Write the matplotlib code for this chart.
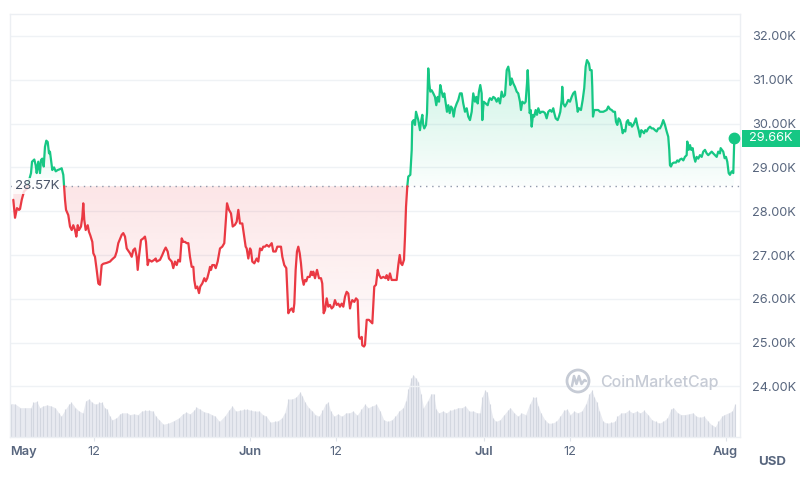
import numpy as np
import matplotlib
matplotlib.use("Agg")
import matplotlib.pyplot as plt
import matplotlib.colors as mcolors
import matplotlib.transforms as mtransforms
from matplotlib.path import Path
from matplotlib.patches import Rectangle, Circle
from matplotlib.lines import Line2D

plt.rcParams['font.family'] = ['Inter', 'DejaVu Sans']

# ---------------- data (day offset from May 1, price in K USD) ----------------
may_pts = [(0.68,28.26),(0.90,27.85),(1.15,28.07),(1.41,28.03),(1.54,28.05),(1.76,28.26),(2.05,28.45),(2.44,28.52),(2.69,28.70),(2.95,28.87),(3.08,29.13),(3.37,29.18),(3.55,29.05),(3.68,28.87),(3.88,29.13),(4.10,28.87),(4.23,29.17),(4.40,29.20),(4.58,29.02),(4.74,29.47),(4.91,29.61),(5.09,29.58),(5.26,29.32),(5.38,29.36),(5.51,29.17),(5.68,28.94),(5.90,29.00),(6.12,28.91),(6.37,28.94),(6.67,28.96),(6.88,28.98),(7.09,28.83),(7.18,28.60),(7.31,28.26),(7.44,28.03),(7.73,27.91),(7.95,27.65),(8.17,27.57),(8.37,27.68),(8.59,27.57),(8.76,27.42),(8.94,27.68),(9.10,27.57),(9.36,27.65),(9.53,27.87),(9.65,28.18),(9.78,27.80),(9.96,27.57),(10.22,27.68),(10.38,27.53),(10.55,27.45),(10.81,27.30),(10.94,27.04),(11.15,26.96),(11.37,26.66),(11.58,26.35),(11.79,26.32),(12.01,26.77),(12.22,26.80),(12.65,26.82),(13.08,26.85),(13.29,26.89),(13.72,26.96),(13.94,27.08),(14.14,27.27),(14.58,27.46),(14.78,27.50),(15.00,27.42),(15.22,27.15),(15.64,27.04),(15.86,26.96),(16.06,27.11),(16.28,27.15),(16.50,26.96),(16.63,26.66),(16.79,26.96),(17.05,27.34),(17.35,27.38),(17.56,27.42),(17.69,27.30),(17.91,26.77),(18.08,26.89),(18.42,26.85),(18.76,26.89),(18.94,26.92),(19.06,26.85),(19.49,26.89),(19.78,27.00),(20.04,27.11),(20.22,27.17),(20.47,27.08),(20.64,26.92),(20.99,26.85),(21.19,26.70),(21.41,26.85),(21.63,26.77),(21.83,26.89),(22.05,26.85),(22.18,27.15),(22.27,27.38),(22.47,27.30),(22.69,27.30),(22.91,27.27),(23.12,27.27),(23.33,26.96),(23.55,26.73),(23.76,26.73),(23.88,26.43),(24.06,26.24),(24.27,26.28),(24.49,26.13),(24.65,26.28),(24.91,26.35),(25.17,26.47),(25.35,26.40),(25.55,26.47),(25.77,26.62),(25.90,26.73),(26.03,26.66),(26.19,26.77),(26.45,26.77),(26.63,26.70),(26.88,26.85),(27.18,27.15),(27.47,27.19),(27.73,27.27),(27.91,27.72),(28.08,28.18),(28.33,28.03),(28.59,27.95),(28.81,27.65),(29.10,27.69),(29.32,27.76),(29.53,28.03),(29.74,27.72),(30.04,27.72),(30.29,27.42),(30.47,27.19),(30.60,27.15),(30.81,26.92)]

jun_pts = [(31.03,27.15),(31.15,27.11),(31.32,26.85),(31.58,26.81),(31.88,26.92),(32.09,26.85),(32.31,27.15),(32.53,27.11),(32.73,27.19),(32.95,27.19),(33.17,27.23),(33.46,27.19),(33.81,27.27),(34.01,27.08),(34.32,27.08),(34.53,27.19),(34.74,27.19),(35.00,27.19),(35.17,26.96),(35.42,26.77),(35.68,26.70),(35.81,26.20),(35.94,25.67),(36.15,25.74),(36.37,25.78),(36.58,25.70),(36.71,25.89),(36.88,26.66),(37.05,27.08),(37.22,27.19),(37.40,27.04),(37.56,26.81),(37.73,26.47),(37.91,26.32),(38.08,26.43),(38.24,26.40),(38.42,26.50),(38.68,26.50),(38.85,26.62),(39.01,26.54),(39.14,26.62),(39.36,26.47),(39.62,26.66),(39.87,26.47),(40.13,26.47),(40.29,26.35),(40.47,25.67),(40.64,25.74),(40.86,26.01),(41.06,25.82),(41.28,25.86),(41.50,25.78),(41.71,25.82),(41.92,25.97),(42.14,25.86),(42.35,25.89),(42.56,25.82),(42.78,25.89),(42.99,25.82),(43.21,26.05),(43.42,26.16),(43.63,26.12),(43.85,25.78),(43.97,25.89),(44.14,25.97),(44.40,25.93),(44.62,26.01),(44.83,25.97),(45.00,25.13),(45.13,25.09),(45.35,25.13),(45.42,24.94),(45.64,24.91),(45.77,24.95),(45.99,25.52),(46.28,25.52),(46.71,25.44),(46.96,26.28),(47.18,26.32),(47.40,26.66),(47.60,26.54),(47.82,26.47),(48.12,26.50),(48.42,26.47),(48.55,26.54),(48.76,26.43),(48.97,26.58),(49.19,26.43),(49.53,26.43),(49.83,26.43),(50.04,26.77),(50.22,27.00),(50.38,26.81),(50.55,26.77),(50.77,26.89),(50.90,27.42),(51.03,28.10),(51.19,28.56),(51.32,28.79),(51.58,28.83),(51.76,29.40),(51.83,30.04),(52.01,30.08),(52.18,29.97),(52.31,30.27),(52.47,30.16),(52.60,30.08),(52.82,29.85),(52.95,30.04),(53.12,30.20),(53.24,29.97),(53.37,29.89),(53.59,29.97),(53.72,30.24),(53.88,31.26),(54.01,30.92),(54.14,30.73),(54.32,30.76),(54.53,30.69),(54.74,30.61),(54.91,30.42),(55.09,30.61),(55.26,30.50),(55.42,30.88),(55.60,30.73),(55.77,30.61),(55.94,30.69),(56.12,30.46),(56.28,30.27),(56.45,30.42),(56.63,30.24),(56.79,30.39),(56.96,30.35),(57.14,30.16),(57.31,30.35),(57.53,30.46),(57.73,30.54),(57.95,30.69),(58.17,30.69),(58.37,30.46),(58.59,30.27),(58.81,30.35),(59.01,30.16),(59.23,30.08),(59.45,30.27),(59.65,30.69),(59.87,30.50),(60.04,30.61),(60.22,30.46),(60.38,30.73),(60.55,30.88),(60.73,30.69),(60.81,30.08),(60.99,30.50)]

jul_pts = [(61.24,30.46),(61.50,30.42),(61.67,30.54),(61.79,30.58),(62.01,30.54),(62.22,30.61),(62.44,30.58),(62.65,30.50),(62.86,30.58),(63.08,30.46),(63.29,30.73),(63.50,30.61),(63.72,30.65),(63.94,31.22),(64.14,31.30),(64.27,31.18),(64.40,30.88),(64.58,31.03),(64.78,30.92),(65.00,30.84),(65.22,30.73),(65.42,30.69),(65.64,30.50),(65.77,30.31),(65.94,30.50),(66.19,30.46),(66.37,30.50),(66.54,30.92),(66.63,31.22),(66.76,30.77),(66.88,30.24),(67.01,30.31),(67.14,29.93),(67.31,30.20),(67.47,30.16),(67.65,30.31),(67.82,30.20),(67.99,30.35),(68.21,30.24),(68.42,30.27),(68.63,30.27),(68.85,30.24),(69.06,30.12),(69.27,30.27),(69.49,30.31),(69.71,30.27),(69.91,30.35),(70.04,30.24),(70.22,30.12),(70.47,30.08),(70.64,30.16),(70.81,30.27),(70.99,30.54),(71.06,30.84),(71.19,30.46),(71.41,30.39),(71.63,30.46),(71.83,30.54),(72.05,30.50),(72.27,30.61),(72.47,30.69),(72.69,30.73),(72.91,30.46),(73.04,30.27),(73.21,30.35),(73.46,30.31),(73.68,30.54),(73.88,30.81),(74.06,31.30),(74.23,31.45),(74.49,31.37),(74.62,31.22),(74.83,31.22),(74.91,30.84),(75.00,30.16),(75.17,30.31),(75.47,30.31),(75.68,30.31),(75.90,30.27),(76.32,30.27),(76.76,30.31),(76.96,30.39),(77.18,30.33),(77.40,30.31),(77.60,30.27),(77.82,30.27),(77.95,30.04),(78.12,29.97),(78.29,30.12),(78.46,30.08),(78.63,29.97),(78.81,29.78),(78.97,29.85),(79.14,29.82),(79.32,30.04),(79.49,30.08),(79.65,29.97),(79.83,30.01),(80.00,29.93),(80.17,29.97),(80.35,30.04),(80.51,30.12),(80.68,29.97),(80.86,29.85),(81.03,29.70),(81.19,29.85),(81.37,29.82),(81.54,29.78),(81.71,29.85),(81.88,29.82),(82.09,29.89),(82.31,29.93),(82.53,29.89),(82.73,29.89),(82.95,29.85),(83.17,29.82),(83.37,29.89),(83.59,29.89),(83.81,29.97),(84.01,30.08),(84.23,29.97),(84.45,29.82),(84.65,29.70),(84.78,29.40),(84.87,29.05),(85.00,29.02),(85.17,29.09),(85.38,29.11),(85.64,29.11),(85.81,29.16),(85.99,29.13),(86.15,29.18),(86.37,29.20),(86.58,29.16),(86.79,29.24),(87.01,29.28),(87.09,29.59),(87.27,29.40),(87.44,29.51),(87.60,29.40),(87.78,29.44),(87.95,29.24),(88.12,29.13),(88.29,29.24),(88.50,29.20),(88.72,29.28),(88.94,29.24),(89.14,29.36),(89.36,29.40),(89.58,29.32),(89.78,29.28),(90.00,29.32),(90.22,29.36),(90.42,29.32),(90.64,29.28),(90.86,29.24),(91.06,29.36),(91.28,29.32),(91.37,29.44),(91.54,29.40),(91.70,29.36),(91.88,29.21),(92.05,29.24),(92.22,29.13),(92.40,28.87),(92.56,28.83),(92.78,28.91),(92.99,28.87),(93.12,29.66)]

# volume (billion USD, day offset from May 1)
volume_pts = [(0.41,19.4),(0.94,19.0),(1.59,17.0),(2.24,17.0),(2.90,17.0),(3.23,20.0),(3.68,20.6),(4.08,17.0),(4.54,18.0),(4.99,18.6),(5.51,18.0),(6.04,17.0),(6.50,14.0),(6.82,12.0),(7.35,16.0),(7.81,19.0),(8.13,20.0),(8.65,17.0),(9.11,15.0),(9.57,14.0),(9.96,21.0),(10.42,22.0),(10.75,20.0),(11.27,19.0),(11.73,20.0),(12.05,20.0),(12.38,17.0),(12.71,16.0),(13.04,12.0),(13.36,10.0),(13.89,11.0),(14.35,13.4),(14.67,14.0),(15.20,14.0),(15.65,13.0),(16.11,13.4),(16.64,13.0),(17.15,15.0),(17.62,15.4),(18.08,15.4),(18.60,15.0),(18.92,12.0),(19.38,10.0),(19.91,7.4),(20.56,8.0),(21.22,9.4),(21.87,11.0),(22.40,13.4),(22.85,14.4),(23.31,13.4),(23.83,15.4),(24.15,17.4),(24.62,16.0),(25.14,14.6),(25.67,14.0),(26.12,13.0),(26.58,12.0),(27.10,9.0),(27.76,12.0),(28.28,15.4),(28.74,18.0),(29.20,15.0),(29.72,15.4),(30.24,16.0),(30.70,16.0),(31.16,15.4),(31.68,15.0),(32.20,15.0),(32.66,13.0),(33.12,12.0),(33.64,8.6),(34.17,9.0),(34.62,9.4),(35.08,11.0),(35.47,14.0),(35.93,22.0),(36.39,22.0),(36.91,23.0),(37.44,26.0),(37.70,24.0),(38.09,20.0),(38.55,17.0),(39.01,15.0),(39.40,13.0),(39.86,12.0),(40.31,15.4),(40.71,19.4),(41.04,20.0),(41.36,15.0),(41.82,12.0),(42.28,13.4),(42.80,12.0),(43.32,14.0),(43.78,14.0),(44.24,15.0),(44.76,12.6),(45.28,16.0),(45.74,19.0),(46.20,17.0),(46.72,18.0),(47.24,19.0),(47.71,15.0),(48.17,10.0),(48.69,9.0),(49.21,10.0),(49.67,12.0),(50.13,15.0),(50.65,17.0),(50.98,21.0),(51.31,28.0),(51.69,34.0),(51.96,36.0),(52.28,34.0),(52.62,32.0),(52.94,25.0),(53.27,17.0),(53.79,21.0),(54.24,25.0),(54.57,25.0),(54.90,16.0),(55.23,14.0),(55.75,15.0),(56.21,14.0),(56.67,15.4),(57.19,16.0),(57.72,17.0),(58.17,17.0),(58.63,18.0),(59.15,15.0),(59.67,15.0),(60.13,14.0),(60.46,14.0),(60.79,23.0),(61.12,27.0),(61.44,26.0),(61.77,19.0),(62.17,11.0),(62.55,9.0),(63.08,10.0),(63.60,13.0),(64.06,15.4),(64.38,17.0),(64.91,14.0),(65.37,12.0),(65.82,14.0),(66.35,13.0),(66.87,19.0),(67.33,23.0),(67.65,23.0),(67.98,18.0),(68.31,14.0),(68.83,10.0),(69.29,8.0),(69.74,8.0),(70.27,9.0),(70.79,12.0),(71.25,15.4),(71.71,16.0),(72.10,13.0),(72.56,15.0),(73.02,14.0),(73.54,15.0),(74.06,19.0),(74.52,25.0),(74.85,27.0),(75.18,23.0),(75.50,20.0),(75.83,15.0),(76.29,9.0),(76.81,8.0),(77.33,8.4),(77.79,9.0),(78.12,12.0),(78.64,14.0),(79.10,14.0),(79.56,15.4),(80.09,14.0),(80.60,15.0),(81.06,14.0),(81.53,15.4),(82.05,13.0),(82.56,10.0),(83.03,9.0),(83.49,8.0),(84.01,9.0),(84.53,11.0),(84.99,16.0),(85.32,17.0),(85.85,14.0),(86.30,13.0),(86.76,13.0),(87.28,13.4),(87.81,14.0),(88.26,12.0),(88.72,11.4),(89.24,12.0),(89.77,9.0),(90.22,7.0),(90.68,6.0),(91.07,9.0),(91.53,12.0),(91.86,13.0),(92.38,14.0),(92.84,15.0),(93.17,19.0)]

base_price = 28.57
y_ticks = [24, 25, 26, 27, 28, 29, 30, 31, 32]
x_tick_days = [11, 31, 42, 61, 72, 92]
x_tick_labels = ['12', 'Jun', '12', 'Jul', '12', 'Aug']
first_month_label = 'May'
month_names = ['May', 'Jun', 'Jul', 'Aug']
currency = 'USD'
watermark = 'CoinMarketCap'

GREEN = '#16c784'
RED = '#ea3943'
GRID = '#eff2f5'
TXT = '#58667e'
FS = 9.2

pts = may_pts + jun_pts + jul_pts
days = np.array([p[0] for p in pts])
prices = np.array([p[1] for p in pts])
vdays = np.array([p[0] for p in volume_pts])
vols = np.array([p[1] for p in volume_pts])

# insert crossing points at the baseline for colour split
xs, ys = [], []
for i in range(len(days)):
    if i > 0:
        y0, y1 = prices[i - 1], prices[i]
        if (y0 - base_price) * (y1 - base_price) < 0:
            t = (base_price - y0) / (y1 - y0)
            xs.append(days[i - 1] + t * (days[i] - days[i - 1]))
            ys.append(base_price)
    xs.append(days[i]); ys.append(prices[i])
xs = np.array(xs); ys = np.array(ys)

# ---------------- figure ----------------
W, H = 800, 486
fig = plt.figure(figsize=(W / 100, H / 100), dpi=100)
L, R, T, B = 10, 740, 14, 437
rect = [L / W, 1 - B / H, (R - L) / W, (B - T) / H]
XLIM = (0.256, 93.85)
YLIM = (22.845, 32.502)

ax_v = fig.add_axes(rect)
ax_v.set_xlim(*XLIM)
ax_v.set_ylim(0, 245)
ax_v.axis('off')
ax_v.fill_between(vdays, 0, vols, color='#e8eaf0', lw=0)
ax_v.vlines(vdays, 0, vols, color='#d3d7e0', lw=0.8)

ax = fig.add_axes(rect)
ax.patch.set_visible(False)
ax.set_xlim(*XLIM)
ax.set_ylim(*YLIM)
ax.set_axisbelow(True)
ax.grid(axis='y', color=GRID, lw=1)
for s in ax.spines.values():
    s.set_color('#eceff3')
    s.set_linewidth(1)

ax.yaxis.tick_right()
ax.set_yticks(y_ticks)
ax.set_yticklabels([f'{v:.2f}K' for v in y_ticks])
ax.tick_params(axis='y', length=0, pad=8.5, labelsize=FS, labelcolor=TXT)
ax.set_xticks(x_tick_days)
ax.set_xticklabels(x_tick_labels)
ax.tick_params(axis='x', length=3, color='#dfe3ea', pad=3.5, labelsize=FS, labelcolor=TXT)
for lbl in ax.get_xticklabels():
    if lbl.get_text() in month_names:
        lbl.set_fontweight('semibold')
off = mtransforms.offset_copy(ax.transAxes, fig=fig, y=-6.5, units='points')
ax.text(0.0, 0.0, first_month_label, transform=off, ha='left', va='top',
        fontsize=FS, color=TXT, fontweight='semibold')


def grad_fill(x, ytop, ybot, color, a_lo, a_hi, y_lo, y_hi):
    verts = np.concatenate([np.column_stack([x, ytop]),
                            np.column_stack([x[::-1], ybot[::-1]])])
    path = Path(verts)
    rgb = mcolors.to_rgb(color)
    n = 256
    img = np.zeros((n, 1, 4))
    img[..., :3] = rgb
    img[:, 0, 3] = np.linspace(a_lo, a_hi, n)
    im = ax.imshow(img, extent=[x.min(), x.max(), y_lo, y_hi], origin='lower',
                   aspect='auto', zorder=1, interpolation='bilinear')
    im.set_clip_path(path, transform=ax.transData)


upper = np.maximum(ys, base_price)
lower = np.minimum(ys, base_price)
base_arr = np.full_like(ys, base_price)
grad_fill(xs, upper, base_arr, GREEN, 0.02, 0.22, base_price, ys.max())
grad_fill(xs, base_arr, lower, RED, 0.02, 0.13, ys.min(), base_price)
ax.set_xlim(*XLIM)
ax.set_ylim(*YLIM)

up = np.where(ys >= base_price, ys, np.nan)
dn = np.where(ys <= base_price, ys, np.nan)
ax.plot(xs, up, color=GREEN, lw=1.6, solid_joinstyle='round', solid_capstyle='round', zorder=3)
ax.plot(xs, dn, color=RED, lw=1.6, solid_joinstyle='round', solid_capstyle='round', zorder=3)

ax.axhline(base_price, color='#8f98ab', lw=1.0, ls=(0, (1, 3.4)), zorder=2)
blend = mtransforms.blended_transform_factory(ax.transAxes, ax.transData)
ax.text(5 / (R - L), base_price, f'{base_price:.2f}K', transform=blend, ha='left', va='center',
        fontsize=9.6, color='#4a5568', zorder=6,
        bbox=dict(boxstyle='square,pad=0.15', fc='white', ec='none', alpha=0.82))

# last price marker & label
ax.plot(days[-1], prices[-1], 'o', ms=7.5, color=GREEN, zorder=7, clip_on=False)
bx0 = (742 - L) / (R - L)
bw = (800 - 742) / (R - L)
bh = 17 / ((B - T) / (YLIM[1] - YLIM[0]))
ax.add_patch(Rectangle((bx0, prices[-1] - bh / 2), bw, bh, transform=blend,
                       facecolor=GREEN, edgecolor='none', clip_on=False, zorder=8))
ax.text(bx0 + bw / 2, prices[-1], f'{prices[-1]:.2f}K', transform=blend, ha='center',
        va='center', color='white', fontsize=FS, zorder=9, clip_on=False)

# currency label
fig.text(772 / W, 1 - 462 / H, currency, ha='center', va='center', fontsize=9.5,
         fontweight='bold', color=TXT)

# watermark
WM = '#c6cbd5'
fig.text(600 / W, 1 - 382 / H, watermark, ha='left', va='center', fontsize=11.5,
         color=WM, fontweight='medium')
idt = mtransforms.IdentityTransform()
cx, cy = 578, H - 381
fig.add_artist(Circle((cx, cy), 11, transform=idt, fill=False, ec=WM, lw=2.0))
mx = np.array([-6, -4, -1.5, 1, 3.5, 6.5, 8])
my = np.array([-5, 5, -3, 5, -3, 1, 0])
fig.add_artist(Line2D(cx + mx, cy + my, transform=idt, color=WM, lw=1.8,
                      solid_joinstyle='round', solid_capstyle='round'))

fig.savefig('out.png', dpi=100)
